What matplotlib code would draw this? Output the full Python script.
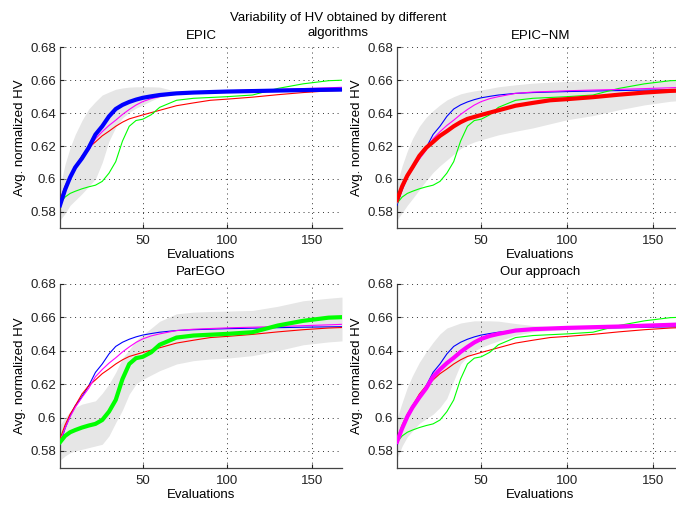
"""
Variability of HV obtained by different algorithms - 2x2 panel figure
"""

import matplotlib
matplotlib.use("Agg")
import matplotlib.pyplot as plt

# evaluation grid
evals = [1, 4, 7, 10, 14, 18, 22, 26, 30, 34, 38, 42, 46, 50, 55, 60,
         70, 80, 90, 100, 115, 130, 145, 160, 168]

# mean normalized HV curves
hv_epic = [0.584, 0.5935, 0.601, 0.607, 0.6125, 0.619, 0.627, 0.632, 0.638,
           0.6425, 0.645, 0.6468, 0.6482, 0.6493, 0.6502, 0.651, 0.652,
           0.6525, 0.6528, 0.6531, 0.6534, 0.6537, 0.654, 0.6542, 0.6543]
hv_epic_nm = [0.5872, 0.5955, 0.602, 0.607, 0.614, 0.619, 0.6225, 0.6262,
              0.629, 0.632, 0.6345, 0.6365, 0.6377, 0.6389, 0.6403, 0.6417,
              0.6445, 0.6462, 0.6478, 0.6485, 0.6497, 0.6512, 0.6525,
              0.6535, 0.6538]
hv_parego = [0.5852, 0.589, 0.5912, 0.5925, 0.594, 0.5952, 0.5962, 0.5985,
             0.6035, 0.6105, 0.623, 0.632, 0.6355, 0.6363, 0.639, 0.6435,
             0.6478, 0.649, 0.6495, 0.65, 0.651, 0.655, 0.6578, 0.6597, 0.66]
hv_ours = [0.5855, 0.5935, 0.6005, 0.606, 0.612, 0.6175, 0.6244, 0.6287,
           0.6325, 0.6357, 0.6392, 0.6422, 0.6449, 0.647, 0.6488, 0.65,
           0.652, 0.6528, 0.6532, 0.6536, 0.654, 0.6544, 0.6549, 0.6554,
           0.6557]

# variability bands (upper / lower)
epic_hi = [0.595, 0.609, 0.619, 0.627, 0.6355, 0.6425, 0.647, 0.651, 0.6528,
           0.6545, 0.6553, 0.6558, 0.656, 0.656, 0.656, 0.6558, 0.6532,
           0.653, 0.6532, 0.6535, 0.6538, 0.6541, 0.6544, 0.6546, 0.6547]
epic_lo = [0.575, 0.579, 0.584, 0.587, 0.591, 0.5955, 0.6, 0.61, 0.623,
           0.6315, 0.637, 0.6405, 0.643, 0.6449, 0.6475, 0.6497, 0.6515,
           0.652, 0.6524, 0.6527, 0.653, 0.6533, 0.6536, 0.6538, 0.6539]
epic_nm_hi = [0.597, 0.608, 0.617, 0.6245, 0.632, 0.6375, 0.6415, 0.645,
              0.648, 0.65, 0.6517, 0.6527, 0.6535, 0.6541, 0.655, 0.656,
              0.6572, 0.6582, 0.6588, 0.6592, 0.6596, 0.66, 0.6602, 0.6604,
              0.6605]
epic_nm_lo = [0.575, 0.5795, 0.584, 0.588, 0.5935, 0.599, 0.604, 0.608,
              0.6115, 0.615, 0.6185, 0.6208, 0.6225, 0.6238, 0.6253, 0.6268,
              0.629, 0.631, 0.6335, 0.636, 0.6385, 0.642, 0.645, 0.6472,
              0.6478]
parego_hi = [0.5955, 0.6, 0.6035, 0.606, 0.608, 0.609, 0.61, 0.6145, 0.62,
             0.627, 0.6355, 0.6405, 0.646, 0.6495, 0.6534, 0.6575, 0.662,
             0.663, 0.6634, 0.6636, 0.664, 0.6665, 0.6698, 0.6713, 0.672]
parego_lo = [0.5745, 0.577, 0.579, 0.58, 0.581, 0.582, 0.583, 0.584, 0.589,
             0.597, 0.6045, 0.614, 0.62, 0.6228, 0.6254, 0.628, 0.632, 0.634,
             0.635, 0.6355, 0.637, 0.64, 0.6435, 0.6452, 0.6458]
ours_hi = [0.5995, 0.609, 0.618, 0.625, 0.633, 0.6393, 0.645, 0.65, 0.6535,
           0.655, 0.6565, 0.6572, 0.6578, 0.6578, 0.6578, 0.6576, 0.6562,
           0.655, 0.6546, 0.6545, 0.6547, 0.655, 0.6555, 0.656, 0.6563]
ours_lo = [0.5755, 0.583, 0.5885, 0.592, 0.5965, 0.5993, 0.602, 0.606,
           0.6115, 0.622, 0.632, 0.6365, 0.6398, 0.642, 0.644, 0.6458, 0.6492,
           0.6512, 0.652, 0.6524, 0.6528, 0.6532, 0.6538, 0.6544, 0.6548]

series = {
    'EPIC': (hv_epic, '#0000ff', epic_lo, epic_hi),
    'EPIC-NM': (hv_epic_nm, '#ff0000', epic_nm_lo, epic_nm_hi),
    'ParEGO': (hv_parego, '#00ff00', parego_lo, parego_hi),
    'Our approach': (hv_ours, '#ff00ff', ours_lo, ours_hi),
}
panel_titles = ['EPIC', 'EPIC\u2212NM', 'ParEGO', 'Our approach']
panel_keys = ['EPIC', 'EPIC-NM', 'ParEGO', 'Our approach']
y_ticks = [0.58, 0.6, 0.62, 0.64, 0.66, 0.68]
y_tick_labels = ['0.58', '0.6', '0.62', '0.64', '0.66', '0.68']
x_ticks = [50, 100, 150]

plt.rcParams['font.family'] = ['Liberation Sans', 'DejaVu Sans']

W, H = 676, 505
fig = plt.figure(figsize=(W / 100, H / 100), dpi=100)

# axes boxes in pixels: (left, top, width, height)
boxes = [(60, 47.3, 282, 181), (397, 47.3, 287, 181),
         (60, 283.7, 282, 184), (397, 283.7, 287, 184)]

for box, key, title in zip(boxes, panel_keys, panel_titles):
    l, t, w, h = box
    ax = fig.add_axes([l / W, 1 - (t + h) / H, w / W, h / H])

    lo, hi = series[key][2], series[key][3]
    ax.fill_between(evals, lo, hi, color='#e6e6e6', lw=0, zorder=1)

    for name, (vals, col, _, _) in series.items():
        if name == key:
            continue
        ax.plot(evals, vals, color=col, lw=0.8, zorder=3)
    vals, col = series[key][0], series[key][1]
    ax.plot(evals, vals, color=col, lw=3.0, zorder=4)

    ax.set_xlim(1, 168)
    ax.set_ylim(0.57, 0.68)
    ax.set_xticks(x_ticks)
    ax.set_xticklabels([str(v) for v in x_ticks])
    ax.set_yticks(y_ticks)
    ax.set_yticklabels(y_tick_labels)
    ax.tick_params(direction='in', length=3, labelsize=9.5, colors='#222222')
    ax.tick_params(axis='x', pad=5)
    ax.tick_params(axis='y', pad=3)
    ax.grid(True, color='#333333', linestyle=(0, (1, 4)), lw=0.7)
    ax.set_axisbelow(False)
    for s in ('top', 'right'):
        ax.spines[s].set_visible(False)
    for s in ('left', 'bottom'):
        ax.spines[s].set_color('#444444')
        ax.spines[s].set_linewidth(0.9)

    ax.set_xlabel('Evaluations', fontsize=9.5, labelpad=1.5)
    ax.set_ylabel('Avg. normalized HV', fontsize=9.5, labelpad=3)
    ax.set_title(title, fontsize=9.5, pad=6)

fig.text(0.5, 1 - 18 / H, 'Variability of HV obtained by different',
         ha='center', va='center', fontsize=9.5)
fig.text(0.5, 1 - 33 / H, 'algorithms', ha='center', va='center',
         fontsize=9.5)

fig.savefig('out.png', dpi=100)
plt.close(fig)
